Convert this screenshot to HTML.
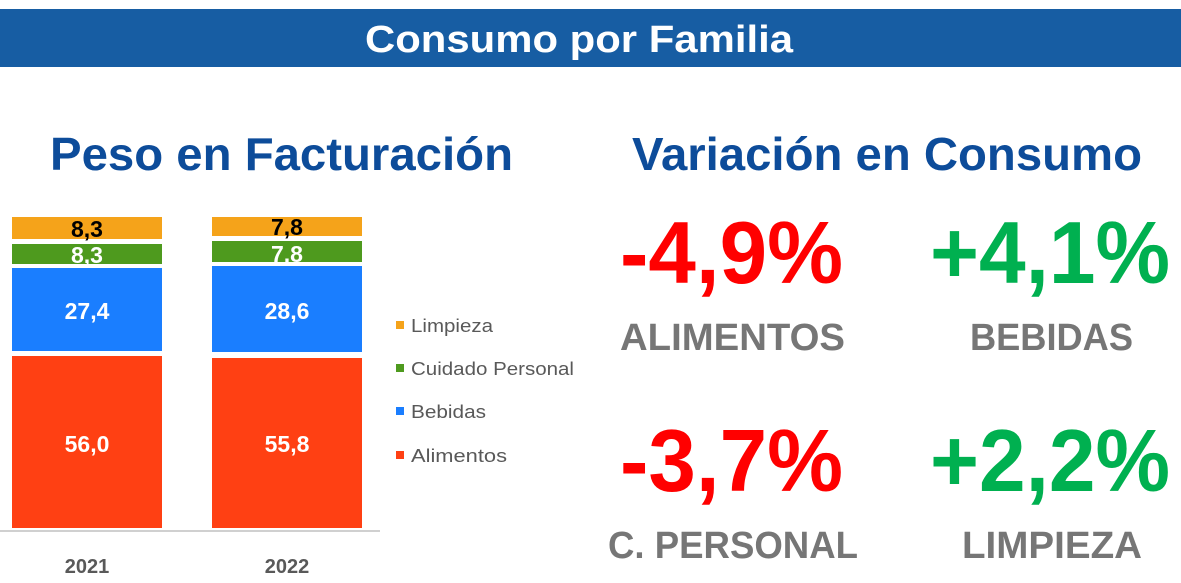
<!DOCTYPE html>
<html><head><meta charset="utf-8"><style>
html,body{margin:0;padding:0;background:#fff;}
svg{display:block;}
</style></head><body>
<svg width="1181" height="583" viewBox="0 0 1181 583" xmlns="http://www.w3.org/2000/svg" font-family="Liberation Sans, sans-serif" font-weight="bold">
<rect x="0" y="9" width="1181" height="58" fill="#175DA3"/>
<text x="365" y="52" font-size="38" fill="#fff" textLength="428" lengthAdjust="spacingAndGlyphs">Consumo por Familia</text>
<text x="50" y="170" font-size="46" fill="#0D4C9A" textLength="463" lengthAdjust="spacingAndGlyphs">Peso en Facturación</text>
<text x="632" y="170" font-size="46" fill="#0D4C9A" textLength="510" lengthAdjust="spacingAndGlyphs">Variación en Consumo</text>
<rect x="12" y="217" width="150" height="22" fill="#F5A31A"/>
<rect x="12" y="244" width="150" height="20" fill="#4E9A1E"/>
<rect x="12" y="268" width="150" height="83" fill="#1A7EFF"/>
<rect x="12" y="356" width="150" height="172" fill="#FF4013"/>
<rect x="212" y="217" width="150" height="19" fill="#F5A31A"/>
<rect x="212" y="241" width="150" height="21" fill="#4E9A1E"/>
<rect x="212" y="266" width="150" height="86" fill="#1A7EFF"/>
<rect x="212" y="358" width="150" height="170" fill="#FF4013"/>
<line x1="0" y1="531" x2="380" y2="531" stroke="#d0d0d0" stroke-width="2"/>
<g font-size="23" text-anchor="middle" fill="#fff">
<text x="87" y="237" fill="#000">8,3</text>
<text x="87" y="263">8,3</text>
<text x="87" y="319">27,4</text>
<text x="87" y="452">56,0</text>
<text x="287" y="235" fill="#000">7,8</text>
<text x="287" y="262">7,8</text>
<text x="287" y="319">28,6</text>
<text x="287" y="452">55,8</text>
</g>
<g font-size="20" text-anchor="middle" fill="#595959">
<text x="87" y="573">2021</text>
<text x="287" y="573">2022</text>
</g>
<g font-size="18" font-weight="normal" fill="#595959">
<rect x="396" y="321" width="8" height="8" fill="#F5A31A"/><text x="411" y="332" textLength="82" lengthAdjust="spacingAndGlyphs">Limpieza</text>
<rect x="396" y="364" width="8" height="8" fill="#4E9A1E"/><text x="411" y="375" textLength="163" lengthAdjust="spacingAndGlyphs">Cuidado Personal</text>
<rect x="396" y="407" width="8" height="8" fill="#1A7EFF"/><text x="411" y="418" textLength="75" lengthAdjust="spacingAndGlyphs">Bebidas</text>
<rect x="396" y="451" width="8" height="8" fill="#FF4013"/><text x="411" y="462" textLength="96" lengthAdjust="spacingAndGlyphs">Alimentos</text>
</g>
<g font-size="88">
<text x="620" y="283" fill="#FF0000" textLength="223" lengthAdjust="spacingAndGlyphs">-4,9%</text>
<text x="930" y="283" fill="#00B050" textLength="240" lengthAdjust="spacingAndGlyphs">+4,1%</text>
<text x="620" y="491" fill="#FF0000" textLength="223" lengthAdjust="spacingAndGlyphs">-3,7%</text>
<text x="930" y="491" fill="#00B050" textLength="240" lengthAdjust="spacingAndGlyphs">+2,2%</text>
</g>
<g font-size="38" fill="#767676">
<text x="620" y="350" textLength="225" lengthAdjust="spacingAndGlyphs">ALIMENTOS</text>
<text x="970" y="350" textLength="163" lengthAdjust="spacingAndGlyphs">BEBIDAS</text>
<text x="608" y="558" textLength="250" lengthAdjust="spacingAndGlyphs">C. PERSONAL</text>
<text x="962" y="558" textLength="180" lengthAdjust="spacingAndGlyphs">LIMPIEZA</text>
</g>
</svg>
</body></html>
